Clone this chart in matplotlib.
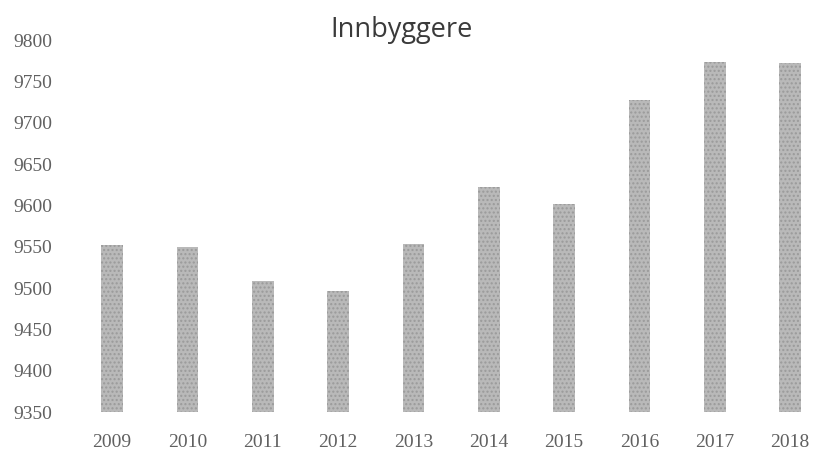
import matplotlib
import matplotlib.pyplot as plt

matplotlib.use('Agg')

years = ['2009', '2010', '2011', '2012', '2013', '2014', '2015', '2016', '2017', '2018']
residents = [9552, 9550, 9509, 9496, 9553, 9622, 9602, 9728, 9774, 9772]
y_ticks = list(range(9350, 9801, 50))

fig = plt.figure(figsize=(8.15, 4.61), dpi=100)
ax = fig.add_axes([70 / 815, 0.106, 742 / 815, 0.807])

x = range(len(years))
plt.rcParams['hatch.linewidth'] = 1.0
ax.bar(x, [v - 9350 for v in residents], bottom=9350, width=0.29,
       color='#b9b9b9', edgecolor='#9a9a9a', hatch='....', linewidth=0)

ax.set_xlim(-0.56, 9.29)
ax.set_ylim(9350, 9800)
ax.set_xticks(list(x))
ax.set_xticklabels(years)
ax.set_yticks(y_ticks)

for side in ['top', 'right', 'bottom', 'left']:
    ax.spines[side].set_visible(False)
ax.tick_params(axis='both', length=0, colors='#606060', labelsize=14)
ax.tick_params(axis='x', pad=16)
ax.tick_params(axis='y', pad=13)
for lbl in ax.get_xticklabels() + ax.get_yticklabels():
    lbl.set_fontfamily('Liberation Serif')

fig.text(0.493, 0.935, 'Innbyggere', ha='center', va='center',
         fontsize=19.5, color='#3a3a3a', family='Open Sans')

plt.savefig('out.png', dpi=100)
plt.close()
